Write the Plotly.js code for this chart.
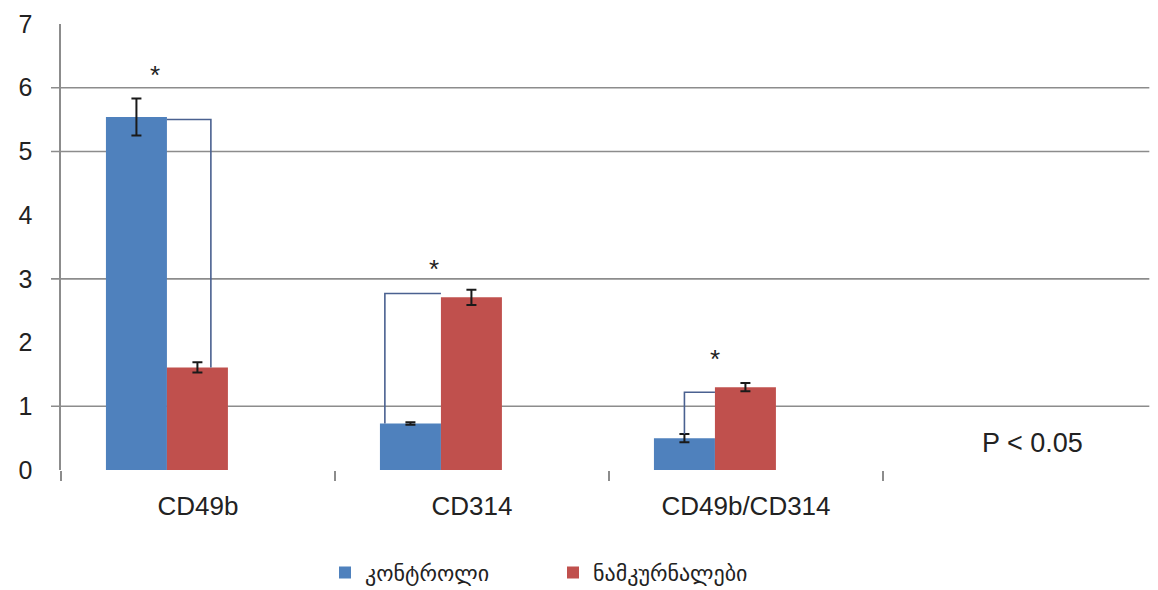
<!DOCTYPE html>
<html>
<head>
<meta charset="utf-8">
<script src="https://cdn.plot.ly/plotly-3.0.1.min.js"></script>
<style>html,body{margin:0;padding:0;background:#fff;}#chart{width:1158px;height:590px;}</style>
</head>
<body>
<div id="chart"></div>
<script>
// ---- data ----
var categories = ['CD49b', 'CD314', 'CD49b/CD314'];
var seriesNames = ['კონტროლი', 'ნამკურნალები'];
var controlValues = [5.54, 0.73, 0.50];
var controlErrors = [0.29, 0.02, 0.065];
var treatedValues = [1.61, 2.71, 1.30];
var treatedErrors = [0.08, 0.12, 0.065];
var yTickValues = [0, 1, 2, 3, 4, 5, 6, 7];
var gridValues = [1, 3, 5, 6];
// significance brackets: low end value, top value
var bracketLow = [1.61, 0.73, 0.565];
var bracketHigh = [5.50, 2.77, 1.22];
var starValues = [6.2, 3.16, 1.74];
var pText = 'P < 0.05';

// ---- geometry (category units) ----
var barW = 0.2226;
var blueOff = -0.336;
var redOff = blueOff + barW;
var blueCenter = blueOff + barW / 2;

var shapes = [];
var lineStyle = {color: '#4a6190', width: 1.6};
var gridStyle = {color: '#8c8c8c', width: 1.6};
var plotW = 1158 - 61 - 1;
gridValues.forEach(function (g) {
  shapes.push({type: 'line', xref: 'paper', yref: 'y', x0: -10 / plotW, x1: 0.993, y0: g, y1: g, line: gridStyle, layer: 'below'});
});
// bracket 0 : horizontal from blue right edge, down at right of red centre
shapes.push({type: 'path', xref: 'x', yref: 'y', layer: 'above', line: lineStyle,
  path: 'M' + (0 + redOff) + ',' + bracketHigh[0] + ' L' + (0 + 0.047) + ',' + bracketHigh[0] + ' L' + (0 + 0.047) + ',' + bracketLow[0]});
// bracket 1 : up from blue bar, across to red left edge
shapes.push({type: 'path', xref: 'x', yref: 'y', layer: 'above', line: lineStyle,
  path: 'M' + (1 - 0.318) + ',' + bracketLow[1] + ' L' + (1 - 0.318) + ',' + bracketHigh[1] + ' L' + (1 + redOff) + ',' + bracketHigh[1]});
// bracket 2 : up from blue error cap, across to red left edge
shapes.push({type: 'path', xref: 'x', yref: 'y', layer: 'above', line: lineStyle,
  path: 'M' + (2 + blueCenter) + ',' + bracketLow[2] + ' L' + (2 + blueCenter) + ',' + bracketHigh[2] + ' L' + (2 + redOff) + ',' + bracketHigh[2]});

var starX = [-0.157, 1 - 0.139, 2 - 0.113];
var annotations = starValues.map(function (v, i) {
  return {x: starX[i], y: v, xref: 'x', yref: 'y', text: '*', showarrow: false,
    font: {family: 'Liberation Sans, Arial, sans-serif', size: 26, color: '#222'}};
});
annotations.push({x: 3.045, y: 0.43, xref: 'x', yref: 'y', text: pText, showarrow: false,
  font: {family: 'Liberation Sans, Arial, sans-serif', size: 27, color: '#222'}});

var errStyle = {type: 'data', visible: true, color: '#1a1a1a', thickness: 2, width: 5};

var traces = [
  {type: 'bar', name: seriesNames[0], x: categories, y: controlValues,
   offset: blueOff, width: barW, marker: {color: '#4f81bd'},
   error_y: Object.assign({array: controlErrors}, errStyle)},
  {type: 'bar', name: seriesNames[1], x: categories, y: treatedValues,
   offset: redOff, width: barW, marker: {color: '#c0504d'},
   error_y: Object.assign({array: treatedErrors}, errStyle)}
];

var layout = {
  width: 1158, height: 590,
  margin: {l: 61, r: 1, t: 24, b: 120, autoexpand: false},
  paper_bgcolor: '#fff', plot_bgcolor: '#fff',
  showlegend: true,
  legend: {orientation: 'h', x: (325 - 61) / plotW, xanchor: 'left', y: -0.23, yanchor: 'middle',
    entrywidth: 183, entrywidthmode: 'pixels',
    font: {family: 'DejaVu Sans, sans-serif', size: 22, color: '#222'}, itemwidth: 30},
  xaxis: {type: 'category', categoryorder: 'array', categoryarray: categories,
    range: [-0.5, 3.5], showgrid: false, zeroline: false, showline: false, automargin: false,
    ticks: 'outside', tickson: 'boundaries', ticklen: 10, tickwidth: 1.5, tickcolor: '#8c8c8c',
    ticklabelstandoff: 18,
    tickfont: {family: 'Liberation Sans, Arial, sans-serif', size: 26, color: '#222'}, fixedrange: true},
  yaxis: {range: [0, 7], tickvals: yTickValues, showgrid: false, zeroline: false, automargin: false,
    showline: true, linecolor: '#8c8c8c', linewidth: 1.6, ticks: '',
    ticklabelstandoff: 22,
    tickfont: {family: 'Liberation Sans, Arial, sans-serif', size: 25, color: '#222'}, fixedrange: true},
  shapes: shapes,
  annotations: annotations,
  bargap: 0.33
};

Plotly.newPlot('chart', traces, layout, {displayModeBar: false, staticPlot: true});
</script>
</body>
</html>
